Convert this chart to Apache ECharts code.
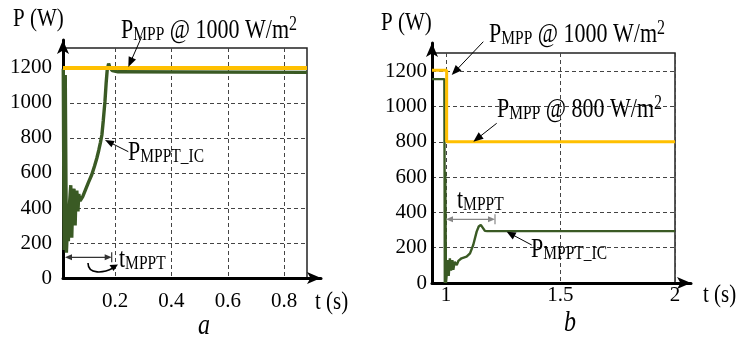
<!DOCTYPE html>
<html><head><meta charset="utf-8">
<script src="https://cdn.jsdelivr.net/npm/echarts@6/dist/echarts.min.js"></script>
<style>html,body{margin:0;padding:0;background:#fff}#c{width:739px;height:337px}</style>
</head><body><div id="c"></div>
<script>
// ---- data ----
const yTicks = [0, 200, 400, 600, 800, 1000, 1200];
const leftXTicks = [0.2, 0.4, 0.6, 0.8];
const rightXTicks = [1, 1.5, 2];

// panel a: P_MPP @ 1000 W/m2 and P_MPPT_IC
const aMppT = [0.015, 0.881];
const aMppP = [1200, 1200];
const aIcT = [0.016, 0.019, 0.023, 0.027, 0.031, 0.034, 0.038, 0.0426, 0.046, 0.050, 0.054, 0.058, 0.061, 0.064, 0.068, 0.071, 0.0756, 0.085, 0.095, 0.105, 0.117, 0.127, 0.135, 0.142, 0.148, 0.153, 0.158, 0.164, 0.168, 0.172, 0.177, 0.182, 0.19, 0.21, 0.881];
const aIcP = [1195, 160, 1160, 145, 300, 210, 420, 530, 230, 480, 510, 300, 470, 500, 380, 480, 440, 465, 505, 545, 590, 640, 684, 730, 775, 817, 900, 1010, 1110, 1190, 1225, 1200, 1185, 1178, 1175];

// panel b: irradiance step 1000 -> 800 W/m2
const bMppT = [0.939, 1.003, 1.003, 2];
const bMppP = [1205, 1205, 800, 800];
const bIcT = [0.939, 0.993, 0.995, 0.997, 1.0, 1.004, 1.007, 1.012, 1.017, 1.022, 1.028, 1.032, 1.038, 1.047, 1.054, 1.061, 1.068, 1.076, 1.09, 1.105, 1.119, 1.134, 1.143, 1.152, 1.16, 1.17, 1.18, 2];
const bIcP = [1155, 1155, 0, 630, 0, 60, 130, 40, 140, 70, 130, 75, 120, 102, 125, 121, 140, 150, 149, 168, 215, 291, 320, 329, 318, 295, 294, 294];

const pairs = (t, p) => t.map((v, i) => [v, p[i]]);

const F = '"Liberation Serif", "Times New Roman", Times, serif';
const YEL = '#FFC000', GRN = '#3A5A24';
const fmt = v => String(v);

function innerX(grid, min, max, ticks, margin) {
  return { gridIndex: grid, type: 'value', min, max,
    axisLine: { show: false }, axisTick: { show: false, customValues: ticks },
    axisLabel: { customValues: ticks, fontSize: 21, fontFamily: F, color: '#000', margin, formatter: fmt },
    splitLine: { show: true, lineStyle: { type: [4, 3], color: '#444', width: 1 } } };
}
function innerY(grid, max, margin) {
  return { gridIndex: grid, type: 'value', min: 0, max,
    axisLine: { show: false }, axisTick: { show: false, customValues: yTicks },
    axisLabel: { customValues: yTicks, fontSize: 21, fontFamily: F, color: '#000', margin, formatter: fmt },
    splitLine: { show: true, lineStyle: { type: [4, 3], color: '#444', width: 1 } } };
}
function outerAxis(grid, min, max) {
  return { gridIndex: grid, type: 'value', min, max,
    axisLine: { show: true, onZero: false, symbol: ['none', 'arrow'], symbolSize: [9, 14], lineStyle: { color: '#000', width: 3 } },
    axisTick: { show: false }, axisLabel: { show: false }, splitLine: { show: false } };
}

const RICH = {
  p: { fontSize: 22, fontFamily: F, lineHeight: 24, verticalAlign: 'bottom', fill: '#000' },
  s: { fontSize: 15.5, fontFamily: F, lineHeight: 13, verticalAlign: 'bottom', fill: '#000' },
  u: { fontSize: 16, fontFamily: F, lineHeight: 10, verticalAlign: 'top', fill: '#000' }
};
function label(x, y, text) {
  return { type: 'text', x, y, scaleY: 1.25, z: 100,
    style: { text, rich: RICH, fill: '#000', align: 'left', verticalAlign: 'middle', textAlign: 'left', textVerticalAlign: 'middle' } };
}
function plain(x, y, text, size, italic, align) {
  return { type: 'text', x, y, scaleY: 1.2, z: 100,
    style: { text, fontSize: size, fontFamily: F, fontStyle: italic ? 'italic' : 'normal', fill: '#000', align: align || 'left', verticalAlign: 'middle', textAlign: align || 'left', textVerticalAlign: 'middle' } };
}
function arrow(x1, y1, x2, y2, L, W, color, lw) {
  const dx = x2 - x1, dy = y2 - y1, d = Math.hypot(dx, dy), ux = dx / d, uy = dy / d;
  const bx = x2 - ux * L, by = y2 - uy * L;
  return [
    { type: 'line', z: 100, shape: { x1, y1, x2: bx + ux, y2: by + uy }, style: { stroke: color, lineWidth: lw } },
    { type: 'polygon', z: 100, shape: { points: [[x2, y2], [bx - uy * W / 2, by + ux * W / 2], [bx + uy * W / 2, by - ux * W / 2]] }, style: { fill: color } }
  ];
}
function dbl(x1, x2, y, color) {
  return [
    { type: 'line', z: 100, shape: { x1: x1 + 4, y1: y, x2: x2 - 4, y2: y }, style: { stroke: color, lineWidth: 1.2 } },
    { type: 'polygon', z: 100, shape: { points: [[x1, y], [x1 + 7, y - 3], [x1 + 7, y + 3]] }, style: { fill: color } },
    { type: 'polygon', z: 100, shape: { points: [[x2, y], [x2 - 7, y - 3], [x2 - 7, y + 3]] }, style: { fill: color } },
    { type: 'line', z: 100, shape: { x1: x2, y1: y - 5, x2: x2, y2: y + 5 }, style: { stroke: color, lineWidth: 1.2 } }
  ];
}

const graphics = [].concat(
  label(121, 30, '{p|P}{s|MPP}{p| @ 1000 W/m}{u|2}'),
  label(128, 151.5, '{p|P}{s|MPPT_IC}'),
  label(119, 258.5, '{p|t}{s|MPPT}'),
  label(489, 33.5, '{p|P}{s|MPP}{p| @ 1000 W/m}{u|2}'),
  label(497, 108.5, '{p|P}{s|MPP}{p| @ 800 W/m}{u|2}'),
  label(531, 248.5, '{p|P}{s|MPPT_IC}'),
  label(457, 199.5, '{p|t}{s|MPPT}'),
  plain(13, 19, 'P (W)', 21),
  plain(381, 23, 'P (W)', 21),
  plain(315, 302, 't (s)', 21),
  plain(703, 295, 't (s)', 21),
  plain(204, 326, 'a', 24, true, 'center'),
  plain(570, 323, 'b', 24, true, 'center'),
  arrow(141.7, 36.7, 128.3, 67, 10, 8, '#000', 1),
  arrow(128.3, 151.7, 105, 140, 9, 7, '#000', 1),
  arrow(483.3, 41.7, 451.7, 75, 10, 8, '#000', 1),
  arrow(496.7, 123.3, 473.3, 141.7, 10, 8, '#000', 1),
  arrow(531.7, 245, 506.7, 231.7, 9, 8, '#000', 1),
  dbl(65, 111.7, 257.3, '#333'),
  dbl(446, 495, 219.3, '#888'),
  [{ type: 'bezierCurve', z: 100, shape: { x1: 88, y1: 263, cpx1: 88, cpy1: 275, cpx2: 104, cpy2: 273, x2: 113, y2: 268 }, style: { stroke: '#000', lineWidth: 1.6, fill: null } },
   { type: 'polygon', z: 100, shape: { points: [[118, 264.5], [109.5, 265], [113.5, 271]] }, style: { fill: '#000' } }]
);

const option = {
  animation: false,
  backgroundColor: '#fff',
  textStyle: { fontFamily: F },
  grid: [
    { left: 63, top: 48, width: 244, height: 230, show: true, borderColor: '#222', borderWidth: 1.5, backgroundColor: 'transparent' },
    { left: 63, top: 40, width: 258, height: 238 },
    { left: 432, top: 53, width: 243, height: 230, show: true, borderColor: '#222', borderWidth: 1.5, backgroundColor: 'transparent' },
    { left: 432, top: 43, width: 259, height: 240 }
  ],
  xAxis: [
    innerX(0, 0.015, 0.881, leftXTicks, 13),
    outerAxis(1, 0.015, 0.931),
    innerX(2, 0.939, 2, rightXTicks, 2),
    outerAxis(3, 0.939, 2.070)
  ],
  yAxis: [
    innerY(0, 1314, 11),
    outerAxis(1, 0, 1360),
    innerY(2, 1303, 5),
    outerAxis(3, 0, 1360)
  ],
  series: [
    { type: 'line', xAxisIndex: 0, yAxisIndex: 0, data: pairs(aIcT, aIcP), showSymbol: false, lineStyle: { color: GRN, width: 3.4 }, z: 3 },
    { type: 'line', xAxisIndex: 0, yAxisIndex: 0, data: pairs(aMppT, aMppP), showSymbol: false, lineStyle: { color: YEL, width: 4 }, z: 4 },
    { type: 'line', xAxisIndex: 2, yAxisIndex: 2, data: pairs(bIcT, bIcP), showSymbol: false, lineStyle: { color: GRN, width: 2.4 }, z: 3 },
    { type: 'line', xAxisIndex: 2, yAxisIndex: 2, data: pairs(bMppT, bMppP), showSymbol: false, lineStyle: { color: YEL, width: 3 }, z: 4 }
  ],
  graphic: { elements: graphics }
};
const chart = echarts.init(document.getElementById('c'), null, { renderer: 'canvas' });
chart.setOption(option);
</script></body></html>
